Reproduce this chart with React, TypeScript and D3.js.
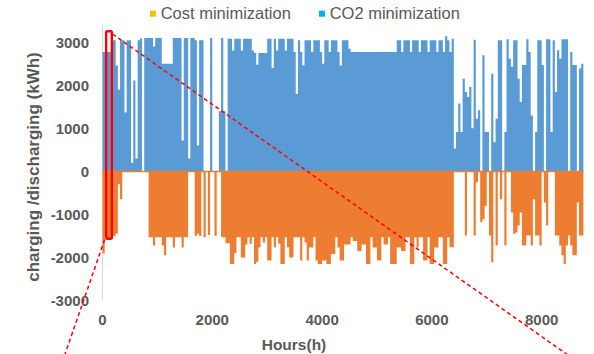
import React from 'react';
import * as d3 from 'd3';

const STEP_HOURS = 40;
const TOTAL_HOURS = 8760;

// CO2 minimization: charging (kWh), one value per 40-hour step
const charging: number[] = [
  2775, 2775, 2775, 2775, 3050, 3050, 2460, 1900, 3050, 3050,
  1370, 3050, 3050, 200, 2110, 300, 3050, 3090, 0, 3100,
  3100, 3100, 3100, 2900, 3100, 3100, 3100, 2500, 2500, 2500,
  2500, 2500, 3100, 3100, 3100, 3100, 720, 3100, 3100, 300,
  3100, 3100, 3050, 600, 3050, 3050, 0, 0, 0, 3100,
  0, 0, 0, 1400, 3100, 1400, 0, 3080, 3080, 2810,
  3080, 3080, 3080, 2810, 3080, 3080, 3080, 3080, 2810, 2750,
  2480, 2750, 2750, 2750, 2750, 3080, 3080, 2400, 3080, 2810,
  3080, 3080, 3080, 2810, 3080, 3080, 3080, 2775, 1800, 3050,
  2775, 2460, 3050, 3050, 3050, 2775, 3050, 3050, 3050, 2775,
  2500, 3050, 3050, 2775, 3050, 3050, 3050, 2775, 2460, 3050,
  3050, 3050, 2850, 2775, 2775, 2775, 2775, 2775, 2775, 2775,
  2775, 2775, 2775, 2775, 2775, 2775, 2775, 2775, 2775, 2775,
  2775, 2775, 2775, 2775, 3050, 3050, 2775, 3050, 3050, 3050,
  2775, 3050, 3050, 3050, 2775, 3050, 3050, 3050, 2775, 3050,
  3050, 3050, 2775, 3050, 3050, 2775, 3140, 3050, 2775, 3085,
  530, 915, 1580, 915, 2155, 1845, 1730, 1960, 1000, 3060,
  1225, 1420, 0, 2700, 915, 915, 0, 2270, 680, 1225,
  3045, 3045, 0, 915, 3070, 2620, 2430, 3045, 3045, 2155,
  1615, 2470, 2470, 3070, 2775, 1300, 0, 915, 3045, 3045,
  2470, 0, 3070, 3070, 915, 3045, 1845, 2815, 2620, 3070,
  3070, 3070, 0, 2775, 2470, 2470, 0, 2390, 2500,
];

// Cost minimization: discharging (kWh), one value per 40-hour step
const discharging: number[] = [
  -1900, -1550, -1550, -1550, -1500, -1500, -1450, -300, -650, 0,
  0, 0, 0, 0, 0, 0, 0, 0, 0, 0,
  0, -1530, -1530, -1720, -1530, -1530, -1530, -1720, -1950, -1530,
  -1530, -1530, -1770, -1530, -1530, -1530, -1770, -1530, -1530, 0,
  0, 0, -1500, -1450, -1500, 0, -1530, 0, -1480, 0,
  0, -1500, 0, 0, -1530, -1530, -1670, -1670, -2150, -2150,
  -1900, -1530, -1530, -2000, -2000, -1700, -1530, -1680, -1530, -2150,
  -2100, -1760, -1530, -1650, -1530, -2070, -2070, -1530, -1760, -1530,
  -1680, -2150, -2150, -1530, -1760, -2000, -2000, -1530, -1530, -1530,
  -2070, -1530, -1650, -2070, -1770, -1770, -1530, -2070, -2150, -2150,
  -2070, -2070, -2150, -2150, -1920, -1920, -1530, -1770, -2070, -2070,
  -1700, -1700, -1700, -1530, -1620, -1620, -1850, -1850, -1700, -1700,
  -2150, -2150, -1530, -1770, -1770, -2070, -2070, -1530, -1700, -1700,
  -1530, -2150, -2150, -2150, -1770, -1770, -1850, -1850, -1530, -1530,
  -2150, -2150, -1530, -1770, -1530, -1530, -2070, -2070, -1530, -2150,
  -2150, -1770, -1770, -1530, -1530, -2150, -2150, -1530, -1760, -1760,
  0, 0, 0, 0, 0, -1490, 0, 0, 0, -1490,
  -250, 0, -1180, -1110, -800, 0, -1490, -2110, 0, -1720,
  0, -645, 0, -1720, 0, 0, -955, -1450, -1420, -1260,
  -955, -1720, -1720, -1490, -1490, -1720, -645, -1490, -1490, -1720,
  0, -720, -1260, 0, 0, 0, -1490, -1490, -1720, -1950,
  -2150, -1720, -1490, -1720, -1950, -1950, -720, -1490, -1490,
];

const xTicks = [0, 2000, 4000, 6000, 8000];
const yTicks = [3000, 2000, 1000, 0, -1000, -2000, -3000];
const legendLabels = ['Cost minimization', 'CO2 minimization'];
const legendColors = ['#FFC000', '#00B0F0'];
// highlighted window (hours / kWh)
const zoomHours = [67, 170];
const zoomValues = [3258, -1566];

const FONT = '"Liberation Sans", Arial, sans-serif';
const TXT = '#595959';

export default function App() {
  const W = 594;
  const H = 354;
  const x = d3.scaleLinear().domain([0, TOTAL_HOURS]).range([102.5, 583.4]);
  const y = d3.scaleLinear().domain([-3000, 3000]).range([300.5, 42.3]);

  const toPts = (arr: number[]): [number, number][] => [
    ...arr.map((v, i) => [i * STEP_HOURS, v] as [number, number]),
    [TOTAL_HOURS, arr[arr.length - 1]],
  ];
  const area = d3
    .area<[number, number]>()
    .curve(d3.curveStepAfter)
    .x((d) => x(d[0]))
    .y0(y(0))
    .y1((d) => y(d[1]));

  const rx0 = x(zoomHours[0]);
  const rx1 = x(zoomHours[1]);
  const ry0 = y(zoomValues[0]);
  const ry1 = y(zoomValues[1]);

  // dashed connector lines from the highlight box
  const l1 = { x1: rx1 + 0.7, y1: ry0 + 2.8 };
  const l1end = { x: l1.x1 + (360 - l1.y1) / 0.705, y: 360 };
  const l2 = { x1: rx0 - 1.5, y1: ry1 + 0.7 };
  const l2end = { x: l2.x1 - (360 - l2.y1) / 2.89, y: 360 };

  const legendX = [150, 319];

  return (
    <svg
      width={W}
      height={H}
      style={{ position: 'absolute', left: 0, top: 0, background: '#fff' }}
      fontFamily={FONT}
    >
      <rect x={0} y={0} width={W} height={H} fill="#fff" />
      {/* axis line */}
      <line x1={x(0)} x2={x(0)} y1={25} y2={y(-3000)} stroke="#d9d9d9" strokeWidth={1} />

      <path d={area(toPts(charging)) || ''} fill="#5B9BD5" />
      <path d={area(toPts(discharging)) || ''} fill="#ED7D31" />
      <line x1={x(0)} x2={x(TOTAL_HOURS)} y1={y(0)} y2={y(0)} stroke="#ED7D31" strokeWidth={1.5} />

      {/* y ticks */}
      {yTicks.map((t) => (
        <text
          key={t}
          x={89}
          y={y(t)}
          dy="0.36em"
          textAnchor="end"
          fontSize={15}
          fontWeight="bold"
          fill={TXT}
        >
          {t}
        </text>
      ))}
      {/* x ticks */}
      {xTicks.map((t) => (
        <text key={t} x={x(t)} y={325} textAnchor="middle" fontSize={15} fontWeight="bold" fill={TXT}>
          {t}
        </text>
      ))}
      <text x={294} y={350} textAnchor="middle" fontSize={15.5} fontWeight="bold" fill={TXT}>
        Hours(h)
      </text>
      <text
        transform="translate(39,167) rotate(-90)"
        textAnchor="middle"
        fontSize={17}
        fontWeight="bold"
        fill={TXT}
      >
        charging /discharging (kWh)
      </text>

      {/* legend */}
      {legendLabels.map((lab, i) => (
        <g key={lab}>
          <rect x={legendX[i]} y={10.7} width={6} height={6} fill={legendColors[i]} />
          <text x={legendX[i] + 10.7} y={19.3} fontSize={16.5} fill={TXT}>
            {lab}
          </text>
        </g>
      ))}

      {/* highlight box */}
      <rect
        x={rx0}
        y={ry0}
        width={rx1 - rx0}
        height={ry1 - ry0}
        fill="none"
        stroke="#FF0000"
        strokeWidth={2.4}
        rx={1}
      />
      <line
        x1={l1.x1}
        y1={l1.y1}
        x2={l1end.x}
        y2={l1end.y}
        stroke="#FF0000"
        strokeWidth={1.5}
        strokeDasharray="4 3"
      />
      <line
        x1={l2.x1}
        y1={l2.y1}
        x2={l2end.x}
        y2={l2end.y}
        stroke="#FF0000"
        strokeWidth={1.5}
        strokeDasharray="4 3"
      />
    </svg>
  );
}
